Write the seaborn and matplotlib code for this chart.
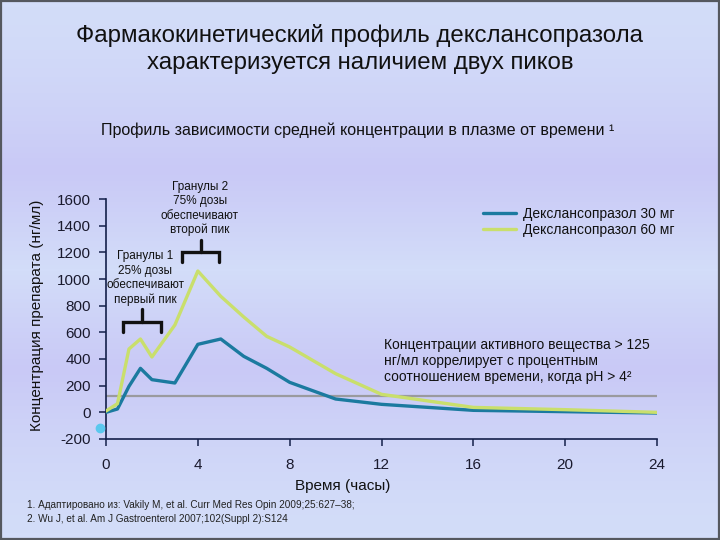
import numpy as np
import pandas as pd
import matplotlib
matplotlib.use("Agg")
import matplotlib.pyplot as plt
from matplotlib.colors import LinearSegmentedColormap
from matplotlib.lines import Line2D
import seaborn as sns

# ---- data ----
hours = [0, 0.5, 1, 1.5, 2, 3, 4, 5, 6, 7, 8, 10, 12, 16, 20, 24]
dex30 = [0, 25, 195, 330, 245, 220, 510, 550, 420, 330, 225, 100, 60, 15, 5, -5]
dex60 = [10, 65, 475, 550, 415, 655, 1060, 870, 715, 570, 490, 290, 135, 37, 20, 0]
series_names = ["Декслансопразол 30 мг", "Декслансопразол 60 мг"]
threshold = 125
x_ticks = [0, 4, 8, 12, 16, 20, 24]
y_ticks = [-200, 0, 200, 400, 600, 800, 1000, 1200, 1400, 1600]

df = pd.DataFrame({
    "t": hours * 2,
    "c": dex30 + dex60,
    "s": [series_names[0]] * len(hours) + [series_names[1]] * len(hours),
})

sns.set_style("ticks")
plt.rcParams["font.family"] = ["Liberation Sans", "DejaVu Sans"]
plt.rcParams["axes.unicode_minus"] = False

navy = "#14204a"
blue = "#1b7a9f"
green = "#c9df6c"

fig = plt.figure(figsize=(7.2, 5.4), dpi=100)

# background gradient
bg = fig.add_axes([0, 0, 1, 1], zorder=-10)
cmap = LinearSegmentedColormap.from_list(
    "bg", [(0, "#d3ddf9"), (0.5, "#c9c9f6"), (1.0, "#d3ddf9")])
grad = np.concatenate([np.linspace(0.0, 1.0, 270), np.linspace(1.0, 0.0, 270)])
grad = (grad ** 1.5)[:, None] * np.ones((1, 10))
bg.imshow(grad, aspect="auto", cmap=cmap, extent=[0, 1, 0, 1], origin="upper", vmin=0, vmax=1)
bg.set_axis_off()
fig.patches.append(plt.Rectangle((0.001, 0.001), 0.998, 0.997, transform=fig.transFigure,
                                 fill=False, edgecolor="#55585f", linewidth=1.6))

ax = fig.add_axes([106 / 720, 1 - 439 / 540, 551 / 720, 240 / 540])
ax.set_facecolor("none")

ax.axhline(threshold, color="#9a9a9e", lw=1.6, zorder=1)

sns.lineplot(data=df, x="t", y="c", hue="s", palette=[blue, green],
             linewidth=2.4, ax=ax, legend=False, zorder=3)

ax.set_xlim(0, 24)
ax.set_ylim(-200, 1600)
ax.set_xticks(x_ticks)
ax.set_yticks(y_ticks)
sns.despine(ax=ax)
for side in ["left", "bottom"]:
    ax.spines[side].set_color(navy)
    ax.spines[side].set_linewidth(1.2)
ax.tick_params(axis="both", colors=navy, labelsize=11, length=5, width=1.1, pad=6)
ax.tick_params(axis="x", pad=9)
for lbl in ax.get_xticklabels() + ax.get_yticklabels():
    lbl.set_color("#1a1a2e")

ax.set_xlabel("Время (часы)", fontsize=11, color="#111111")
ax.set_ylabel("Концентрация препарата (нг/мл)", fontsize=11, color="#111111")
ax.xaxis.set_label_coords((343 - 106) / 551, (439 - 479) / 240)
ax.yaxis.set_label_coords((44 - 106) / 551, (439 - 315) / 240)

# cyan dot
ax.plot([-0.26], [-120], "o", color="#5bc8ee", markersize=6, clip_on=False, zorder=4)

# brackets
def bracket(x0, x1, y, drop, rise):
    xm = (x0 + x1) / 2
    ax.plot([x0, x0, x1, x1], [y - drop, y, y, y - drop], color="#111111", lw=2.4,
            clip_on=False, solid_joinstyle="miter", zorder=5)
    ax.plot([xm, xm], [y, y + rise], color="#111111", lw=2.4, clip_on=False, zorder=5)

bracket(0.73, 2.39, 680, 75, 95)
bracket(3.30, 4.94, 1205, 75, 90)

ax.text(1.7, 1215, "Гранулы 1\n25% дозы\nобеспечивают\nпервый пик", ha="center", va="top",
        fontsize=8.5, color="#111111", linespacing=1.25)
ax.text(4.08, 1735, "Гранулы 2\n75% дозы\nобеспечивают\nвторой пик", ha="center", va="top",
        fontsize=8.5, color="#111111", linespacing=1.25, clip_on=False)

ax.text(12.1, 560, "Концентрации активного вещества > 125\nнг/мл коррелирует с процентным\n"
        "соотношением времени, когда pH > 4²", ha="left", va="top", fontsize=10,
        color="#111111", linespacing=1.2)

# legend
handles = [Line2D([0], [0], color=blue, lw=2.4), Line2D([0], [0], color=green, lw=2.4)]
fig.legend(handles, series_names, loc="upper left", bbox_to_anchor=(470 / 720, 1 - 194 / 540),
           frameon=False, fontsize=10, handlelength=2.4, handletextpad=0.5,
           labelspacing=0.2, labelcolor="#111111")

# titles
fig.text(0.5, 1 - 49 / 540, "Фармакокинетический профиль декслансопразола\nхарактеризуется наличием двух пиков",
         ha="center", va="center", fontsize=17.3, color="#111111", linespacing=1.25)
fig.text(358 / 720, 1 - 130 / 540, "Профиль зависимости средней концентрации в плазме от времени ¹",
         ha="center", va="center", fontsize=11.5, color="#111111")

fig.text(27 / 720, 1 - 512 / 540,
         "1. Адаптировано из: Vakily M, et al. Curr Med Res Opin 2009;25:627–38;\n"
         "2. Wu J, et al. Am J Gastroenterol 2007;102(Suppl 2):S124",
         ha="left", va="center", fontsize=7.2, color="#222222", linespacing=1.55)

fig.savefig("out.png", dpi=100)
